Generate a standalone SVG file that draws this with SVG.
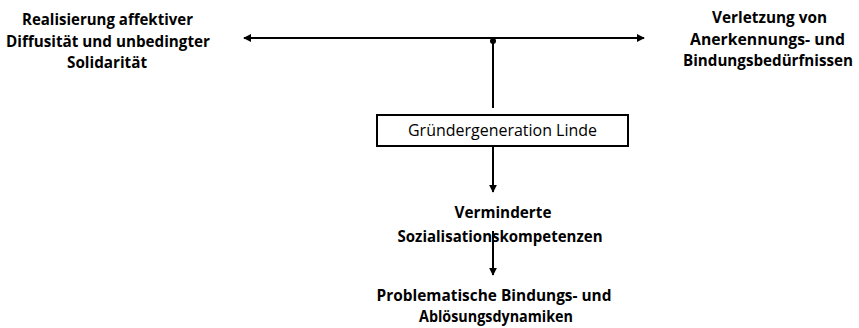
<svg xmlns="http://www.w3.org/2000/svg" width="859" height="328" viewBox="0 0 859 328">
  <style>
    .lbl { font-family: "Open Sans", "Noto Sans", sans-serif; font-weight: 700; font-size: 15.5px; fill: #000; text-anchor: middle; }
    .box-text { font-family: "Open Sans", "Noto Sans", sans-serif; font-weight: 400; font-size: 15.5px; fill: #000; text-anchor: middle; }
    .line { stroke: #000; stroke-width: 2; fill: none; }
  </style>
  <defs>
    <marker id="arrow" viewBox="0 0 10 10" refX="9" refY="5" markerWidth="4" markerHeight="4" orient="auto" markerUnits="strokeWidth">
      <path d="M0,0 L10,5 L0,10 Z" fill="#000"/>
    </marker>
  </defs>
  <rect width="859" height="328" fill="#fff"/>

  <g id="connectors">
    <line class="line" x1="493" y1="38" x2="244" y2="38" marker-end="url(#arrow)"/>
    <line class="line" x1="493" y1="38" x2="644" y2="38" marker-end="url(#arrow)"/>
    <line class="line" x1="493" y1="38" x2="493" y2="108"/>
    <circle cx="493" cy="41" r="3" fill="#000"/>
    <line class="line" x1="493" y1="146" x2="493" y2="192" marker-end="url(#arrow)"/>
    <line class="line" x1="493" y1="231" x2="493" y2="275" marker-end="url(#arrow)"/>
  </g>

  <g id="node-left">
    <text class="lbl" x="107.5" y="25" textLength="171" lengthAdjust="spacingAndGlyphs">Realisierung affektiver</text>
    <text class="lbl" x="108" y="47" textLength="204" lengthAdjust="spacingAndGlyphs">Diffusität und unbedingter</text>
    <text class="lbl" x="107" y="68" textLength="80" lengthAdjust="spacingAndGlyphs">Solidarität</text>
  </g>

  <g id="node-right">
    <text class="lbl" x="769.5" y="23" textLength="115" lengthAdjust="spacingAndGlyphs">Verletzung von</text>
    <text class="lbl" x="767.5" y="45" textLength="155" lengthAdjust="spacingAndGlyphs">Anerkennungs- und</text>
    <text class="lbl" x="768" y="66" textLength="170" lengthAdjust="spacingAndGlyphs">Bindungsbedürfnissen</text>
  </g>

  <g id="node-gruender">
    <rect x="377" y="115" width="251" height="31" fill="#fff" stroke="#000" stroke-width="2"/>
    <text class="box-text" x="502.5" y="136" textLength="189" lengthAdjust="spacingAndGlyphs">Gründergeneration Linde</text>
  </g>

  <g id="node-kompetenzen">
    <text class="lbl" x="503" y="218" textLength="97" lengthAdjust="spacingAndGlyphs">Verminderte</text>
    <text class="lbl" x="500" y="242" textLength="205" lengthAdjust="spacingAndGlyphs">Sozialisationskompetenzen</text>
  </g>

  <g id="node-dynamiken">
    <text class="lbl" x="494" y="301" textLength="235" lengthAdjust="spacingAndGlyphs">Problematische Bindungs- und</text>
    <text class="lbl" x="496" y="322" textLength="154" lengthAdjust="spacingAndGlyphs">Ablösungsdynamiken</text>
  </g>
</svg>
